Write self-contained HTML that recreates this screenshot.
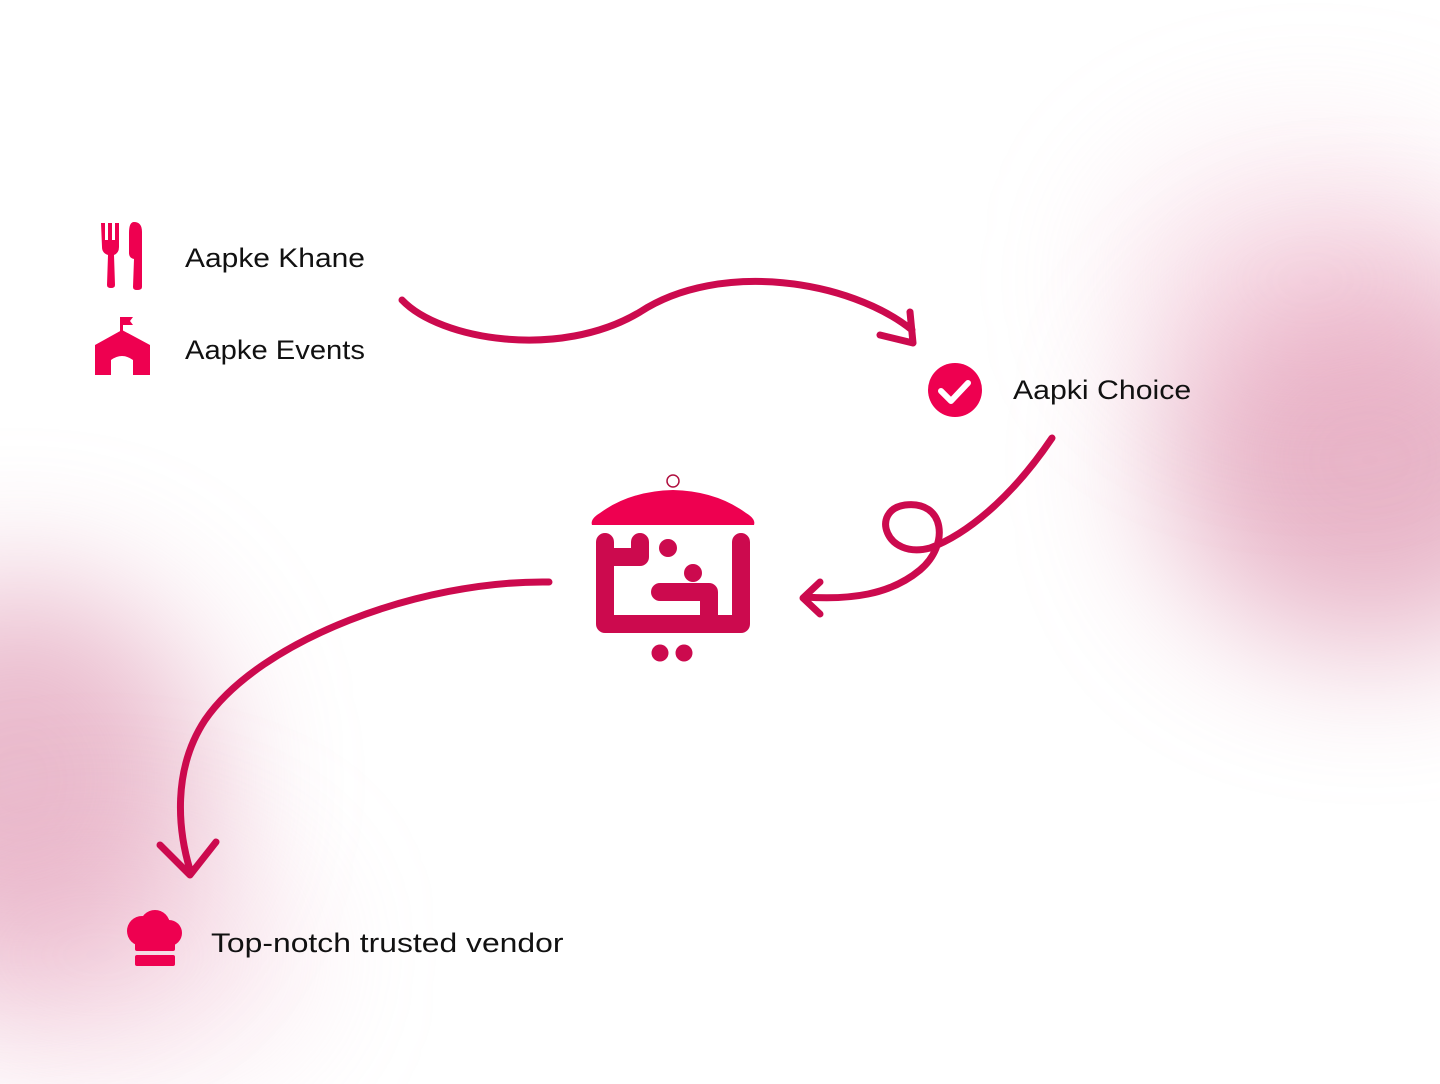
<!DOCTYPE html>
<html><head><meta charset="utf-8"><style>
html,body{margin:0;padding:0}
body{width:1440px;height:1084px;overflow:hidden;position:relative;background:#fff;font-family:"Liberation Sans",sans-serif}
#wrap{position:absolute;left:0;top:0;width:1440px;height:1084px;overflow:hidden}
.blob{position:absolute;border-radius:50%;filter:blur(70px)}
.t{position:absolute;font-size:27px;color:#111;white-space:nowrap;transform-origin:0 50%}
</style></head><body>
<div id="wrap">
<div class="blob" style="left:1160px;top:270px;width:420px;height:380px;background:rgba(214,120,155,0.55)"></div>
<div class="blob" style="left:1120px;top:150px;width:380px;height:260px;background:rgba(240,170,195,0.3)"></div>
<div class="blob" style="left:-170px;top:580px;width:380px;height:400px;background:rgba(214,120,155,0.5)"></div>
<div class="blob" style="left:-100px;top:840px;width:400px;height:230px;background:rgba(235,170,195,0.3)"></div>

<svg width="1440" height="1084" style="position:absolute;left:0;top:0">
 <g fill="#ee0050">
  <path d="M101,223h4v17h3v-17h4v17h3v-17h4v24q0,6-5,8l1,30q0,3-4,3q-4,0-4-3l1-30q-6-2-6-8z"/>
  <path d="M134,222q8,0 8,10v55q0,3-5,3q-4,0-4-3l1-28q-5,-1-5-6v-20q0-11 5-11z"/>
 </g>
 <g fill="#ee0050">
  <rect x="120" y="317" width="3" height="16"/>
  <path d="M123,317h10l-3,4 3,4h-10z"/>
  <path d="M95,345l27-15 28,15v30h-17v-15q-11-8-22,0v15h-16z"/>
 </g>
 <g>
  <circle cx="955" cy="390" r="27" fill="#ee0050"/>
  <path d="M941,391l10,10 17-18" fill="none" stroke="#fff" stroke-width="6" stroke-linecap="round" stroke-linejoin="round"/>
 </g>
 <g fill="#ee0050">
  <circle cx="142" cy="931" r="15"/><circle cx="155" cy="925" r="15"/><circle cx="169" cy="933" r="13"/>
  <rect x="135" y="930" width="40" height="21" rx="2"/>
  <rect x="135" y="955" width="40" height="11" rx="2"/>
 </g>
 <g>
  <circle cx="673" cy="481" r="6" fill="none" stroke="#b01040" stroke-width="1.5"/>
  <path d="M592,525q-2-6 8-12q30-22 73-23q43 1 73 23q10 6 8 12z" fill="#ee0050"/>
  <g fill="none" stroke="#cc0a4e" stroke-width="18" stroke-linejoin="round" stroke-linecap="round">
   <path d="M605,542v82h136v-82"/>
   <path d="M605,557h35v-15"/>
   <path d="M660,592h49v25"/>
  </g>
  <circle cx="668" cy="548" r="9" fill="#cc0a4e"/>
  <circle cx="693" cy="573" r="9" fill="#cc0a4e"/>
  <circle cx="660" cy="653" r="8.5" fill="#cc0a4e"/>
  <circle cx="684" cy="653" r="8.5" fill="#cc0a4e"/>
 </g>
 <g fill="none" stroke="#cc0a4e" stroke-width="7" stroke-linecap="round" stroke-linejoin="round">
  <path d="M402,300C440,340 560,360 640,312C720,260 850,280 912,330M880,335L913,343L910,312"/>
  <path d="M1052,438C1010,500 965,535 930,548C885,560 870,510 905,505C945,500 950,545 920,570C890,595 850,600 805,597M820,582L803,598L820,614"/>
  <path d="M549,582C420,580 260,640 205,720C172,770 178,830 190,870M160,845L190,875L216,842"/>
 </g>
</svg>
<div class="t" style="left:185px;top:243px;transform:scaleX(1.11)">Aapke Khane</div>
<div class="t" style="left:185px;top:335px;transform:scaleX(1.08)">Aapke Events</div>
<div class="t" style="left:1013px;top:375px;transform:scaleX(1.12)">Aapki Choice</div>
<div class="t" style="left:211px;top:928px;transform:scaleX(1.18)">Top-notch trusted vendor</div>
</div>
</body></html>
